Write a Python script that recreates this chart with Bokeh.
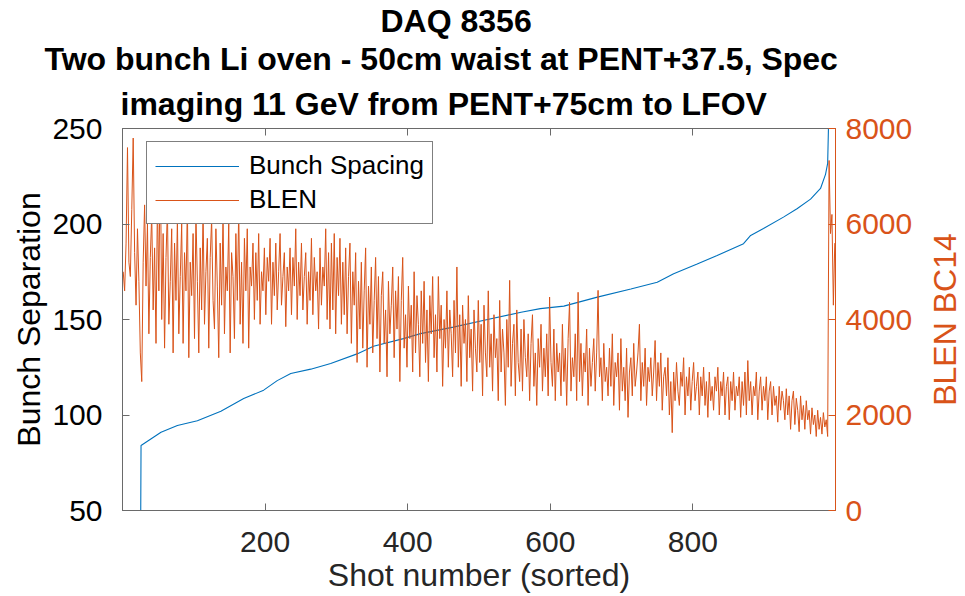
from bokeh.plotting import figure
from bokeh.layouts import row
from bokeh.models import (Range1d, LinearAxis, Legend, LegendItem, Title,
                          FixedTicker, CustomJSTickFormatter)
from bokeh.embed import file_html
from bokeh.resources import INLINE

# Bunch spacing, sorted ascending (knots along the sorted shot index)
spacing_shot = [1, 25, 26, 54, 77, 105, 138, 170, 198, 217, 236, 264, 292,
                329, 352, 394, 418, 464, 512, 559, 586, 619, 666, 713, 750,
                773, 806, 834, 871, 881, 899, 927, 946, 965, 979, 986, 989,
                991]
bunch_spacing = [0, 0, 84, 91, 94.5, 97, 102, 108.6, 113, 118, 121.7, 124,
                 127, 132, 136, 140, 142.6, 146, 150, 153.8, 155.7, 157,
                 161.7, 166, 169.5, 174, 179, 183.5, 189.7, 194, 197.6,
                 203.6, 208, 213, 218.6, 226, 231.7, 265]

# BLEN BC14 for every second shot (1, 3, 5, ...) in the same sorted order
blen = [
    5000, 4600, 5600, 7600, 5200, 4900, 6300, 7800, 5400, 4300,
    5900, 4800, 3300, 2700, 5200, 6400, 4700, 6000, 3700, 5300,
    6200, 4200, 5500, 3500, 6500, 4600, 7600, 4000, 5800, 3400,
    5300, 6300, 3900, 4800, 5900, 3300, 5600, 4400, 6100, 3700,
    4900, 6000, 3500, 5400, 4600, 6400, 3200, 5200, 4500, 5800,
    3600, 6200, 4800, 3300, 5500, 4200, 6300, 3900, 5000, 5700,
    3400, 5300, 6100, 4400, 3800, 5900, 4700, 3200, 5600, 4300,
    6200, 3700, 5100, 4600, 6000, 3300, 5400, 4900, 3600, 5800,
    4400, 6300, 3900, 5200, 3500, 5700, 4600, 5900, 3400, 5100,
    4700, 5600, 4000, 5400, 4400, 5800, 3900, 5000, 4600, 5500,
    4100, 5300, 4800, 5700, 3900, 5200, 4500, 5600, 4200, 5000,
    5800, 4300, 4900, 5400, 3850, 5100, 4600, 5500, 4100, 5300,
    4700, 5900, 4000, 5200, 4500, 5600, 4200, 4900, 5400, 3900,
    5000, 4400, 5700, 4100, 5300, 4600, 5000, 3800, 5500, 4300,
    5100, 4700, 5900, 4000, 5400, 3800, 5600, 4200, 5800, 3700,
    5300, 4500, 5700, 3900, 5200, 4100, 5500, 3700, 4900, 5600,
    3500, 5000, 4300, 5400, 3100, 4800, 3800, 5200, 3400, 4600,
    5500, 3000, 4700, 3900, 5100, 3300, 4400, 5300, 3600, 4900,
    2900, 4500, 5000, 3500, 4200, 2800, 4800, 3700, 4300, 5100,
    3200, 4600, 3800, 4900, 2700, 4400, 5300, 3400, 4100, 3000,
    4700, 3600, 4300, 2900, 5000, 3300, 4500, 3900, 2800, 4600,
    3500, 4800, 3100, 4200, 2700, 4500, 3700, 4900, 3200, 4100,
    2900, 4900, 3600, 4300, 2600, 4000, 3400, 4600, 3000, 4200,
    3700, 2800, 4400, 3300, 5100, 3000, 4100, 2600, 4300, 3500,
    4000, 2700, 4500, 3200, 3800, 2500, 4200, 3400, 2900, 4400,
    3100, 3900, 2400, 4300, 3300, 2800, 4600, 3000, 3700, 2500,
    4100, 3200, 3600, 2300, 4400, 2900, 3800, 3300, 2200, 4000,
    3000, 4820, 2600, 3500, 3900, 2400, 4200, 3100, 2700, 3800,
    2500, 4000, 3200, 2800, 3700, 2300, 3500, 4100, 2600, 3300,
    2200, 3600, 3000, 3900, 2500, 3400, 2800, 3700, 2400, 4470,
    3100, 2600, 3800, 2300, 3500, 2900, 3300, 2400, 3900, 2700,
    3400, 2200, 3600, 4360, 2500, 3200, 2800, 3700, 2300, 4570,
    2700, 3500, 2400, 3300, 2900, 3800, 2200, 3400, 2600, 3100,
    3600, 2500, 3300, 4610, 2800, 3200, 2300, 3500, 2700, 3000,
    2400, 3400, 2600, 3700, 2200, 3100, 2800, 3300, 2100, 3600,
    2500, 3000, 2300, 3400, 1950, 2900, 3200, 2400, 3500, 2600,
    2900, 3300, 3900, 2300, 3100, 2600, 3400, 2200, 3000, 2700,
    3200, 2400, 2900, 3560, 2300, 3100, 2600, 3300, 2100, 2800,
    3000, 2400, 3200, 2000, 2700, 1630, 2900, 2300, 3100, 2500,
    2200, 2900, 2600, 3200, 2000, 2800, 2400, 3000, 2100, 2700,
    3100, 2300, 2600, 2900, 2000, 2800, 2400, 3000, 2200, 2700,
    1950, 2900, 2300, 2600, 2100, 2800, 2500, 3000, 2000, 2700,
    2400, 2900, 2000, 2600, 2800, 1900, 2700, 2300, 2900, 2100,
    2600, 2400, 2800, 1950, 2700, 2200, 2900, 2000, 3140, 2300,
    2700, 2000, 2600, 2400, 2900, 1900, 2500, 2800, 2100, 2600,
    2300, 2800, 1900, 2500, 2700, 2000, 2600, 2200, 2400, 1850,
    2600, 2100, 2500, 2300, 1900, 2550, 2000, 2400, 1700, 2300,
    2500, 1800, 2350, 2100, 1650, 2400, 1900, 2200, 1700, 2300,
    1900, 2100, 1600, 2150, 1800, 2000, 1550, 2100, 1700, 1950,
    1600, 2050, 1750, 1900, 1550, 7330, 5800, 6200, 4300, 5600,
]
blen_shot = list(range(1, 2 * len(blen), 2))

title_lines = ["DAQ 8356",
               "Two bunch Li oven - 50cm waist at PENT+37.5, Spec",
               "imaging 11 GeV from PENT+75cm to LFOV"]
x_ticks = [200, 400, 600, 800]
left_ticks = [50, 100, 150, 200, 250]
right_ticks = [0, 2000, 4000, 6000, 8000]

BLUE = "#0072BD"
ORANGE = "#D95319"
AX = "#262626"
FRAME = "#6a6a6a"
FONT = "Liberation Sans"

# main plot; the upright right-hand axis title lives in a narrow strip beside it
p = figure(width=915, height=596, x_range=Range1d(0, 1000),
           y_range=Range1d(50, 250), output_backend="svg",
           toolbar_location=None, title_location=None,
           min_border_left=122, min_border_right=80,
           min_border_top=128, min_border_bottom=86)
p.extra_y_ranges = {"blen": Range1d(0, 8000)}
p.xgrid.visible = False
p.ygrid.visible = False
p.outline_line_color = FRAME
p.background_fill_color = "white"
p.border_fill_color = "white"

r_spacing = p.line(spacing_shot, bunch_spacing, line_color=BLUE,
                   line_width=1.1)
r_blen = p.line(blen_shot, blen, line_color=ORANGE, line_width=1.0,
                y_range_name="blen")


def style_axis(ax, color, line_color):
    ax.axis_line_color = line_color
    ax.major_tick_line_color = line_color
    ax.minor_tick_line_color = None
    ax.major_tick_in = 7
    ax.major_tick_out = 0
    ax.major_label_text_color = color
    ax.major_label_text_font = FONT
    ax.major_label_text_font_size = "30px"
    ax.axis_label_text_color = color
    ax.axis_label_text_font = FONT
    ax.axis_label_text_font_size = "32px"
    ax.axis_label_text_font_style = "normal"


xa = p.xaxis[0]
xa.ticker = FixedTicker(ticks=x_ticks)
xa.axis_label = "Shot number (sorted)"
style_axis(xa, AX, FRAME)
xa.major_label_standoff = 21
xa.axis_label_standoff = 2

ya = p.yaxis[0]
ya.ticker = FixedTicker(ticks=left_ticks)
ya.axis_label = "Bunch Separation"
style_axis(ya, "#000000", FRAME)
ya.major_label_standoff = 20
ya.axis_label_standoff = 2

ra = LinearAxis(y_range_name="blen", ticker=FixedTicker(ticks=right_ticks))
style_axis(ra, ORANGE, ORANGE)
ra.major_label_standoff = 10
p.add_layout(ra, "right")

ta = LinearAxis(ticker=FixedTicker(ticks=x_ticks),
                formatter=CustomJSTickFormatter(code="return ''"))
style_axis(ta, AX, FRAME)
ta.major_label_standoff = 0
p.add_layout(ta, "above")

# three title lines, stacked upwards from the plot
title_left = [258, -78, -2]
standoffs = [0, 0, 14]
for line, off, so in reversed(list(zip(title_lines, title_left, standoffs))):
    p.add_layout(Title(text=line, align="left", offset=off, text_font=FONT,
                       text_font_size="32px", text_font_style="bold",
                       text_color="#000000", standoff=so), "above")

legend = Legend(items=[LegendItem(label="Bunch Spacing", renderers=[r_spacing]),
                       LegendItem(label="BLEN", renderers=[r_blen])],
                location=(24, 286))
legend.label_text_font = FONT
legend.label_text_font_size = "26px"
legend.label_text_color = "#000000"
legend.glyph_width = 84
legend.glyph_height = 28
legend.label_height = 28
legend.label_standoff = 10
legend.spacing = 3
legend.padding = 8
legend.margin = 0
legend.border_line_color = "#000000"
legend.border_line_width = 1
legend.background_fill_alpha = 1.0
p.add_layout(legend, "center")

# strip holding the BLEN BC14 axis title, reading upwards
side = figure(width=50, height=596, x_range=Range1d(0, 1),
              y_range=Range1d(0, 1), output_backend="svg",
              toolbar_location=None, title_location=None,
              x_axis_location=None, y_axis_location=None,
              min_border_left=48, min_border_right=0,
              min_border_top=128, min_border_bottom=86)
side.xgrid.visible = False
side.ygrid.visible = False
side.outline_line_color = None
side.background_fill_color = "white"
side.border_fill_color = "white"
side_axis = LinearAxis(ticker=FixedTicker(ticks=[0.5]),
                       formatter=CustomJSTickFormatter(code="return ''"),
                       axis_label="BLEN BC14")
side_axis.axis_line_color = None
side_axis.major_tick_line_color = None
side_axis.minor_tick_line_color = None
side_axis.major_tick_in = 0
side_axis.major_tick_out = 0
side_axis.major_label_standoff = 0
side_axis.axis_label_standoff = 1
side_axis.axis_label_text_color = ORANGE
side_axis.axis_label_text_font = FONT
side_axis.axis_label_text_font_size = "32px"
side_axis.axis_label_text_font_style = "normal"
side.add_layout(side_axis, "left")

page = row(p, side)
open("out.html", "w").write(file_html(page, INLINE))
